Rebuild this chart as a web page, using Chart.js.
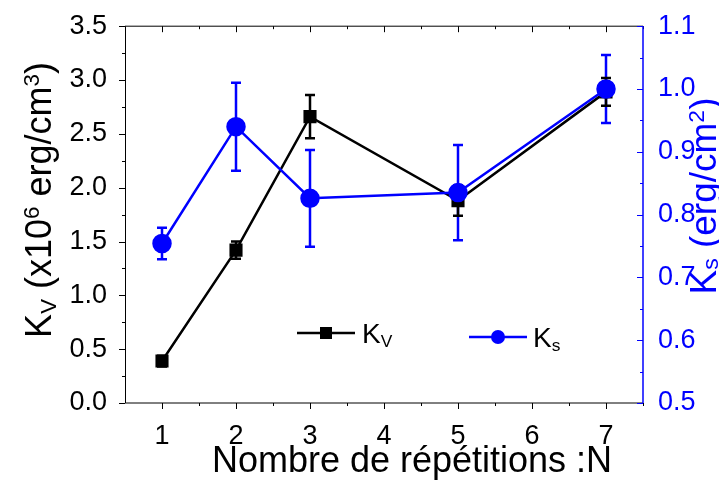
<!DOCTYPE html>
<html>
<head>
<meta charset="utf-8">
<script src="https://cdn.jsdelivr.net/npm/chart.js@4"></script>
<style>
    html, body { margin: 0; padding: 0; background: #fff; }
    #wrap { width: 719px; height: 480px; }
</style>
</head>
<body>
<div id="wrap"><canvas id="chart" width="719" height="480"></canvas></div>
<script>
const repetitions = [1, 2, 3, 5, 7];
const kvValues = [0.39, 1.42, 2.66, 1.88, 2.89];
const kvErrors = [0.05, 0.08, 0.2, 0.14, 0.13];
const ksValues = [0.754, 0.94, 0.826, 0.835, 1.0];
const ksErrors = [0.025, 0.07, 0.077, 0.076, 0.054];

const xTicks = [1, 2, 3, 4, 5, 6, 7];
const kvTicks = [0, 0.5, 1, 1.5, 2, 2.5, 3, 3.5];
const ksTicks = [0.5, 0.6, 0.7, 0.8, 0.9, 1.0, 1.1];

const BLUE = "#0000ff";
const FONT = "'Liberation Sans', Arial, sans-serif";

function toPoints(values) {
    return repetitions.map((x, i) => ({ x: x, y: values[i] }));
}

// text with sub/superscripts, parts: [text, shift] shift -1 sub, 1 sup
function drawRich(ctx, parts, x, y, size, color, rotate, align, subDrop) {
    ctx.save();
    ctx.translate(x, y);
    if (rotate) ctx.rotate(rotate);
    ctx.fillStyle = color;
    ctx.textBaseline = "alphabetic";
    ctx.textAlign = "left";
    let total = 0;
    parts.forEach(([t, s]) => {
        ctx.font = `${s ? size * 0.62 : size}px ${FONT}`;
        total += ctx.measureText(t).width;
    });
    let cx = align === "left" ? 0 : -total / 2;
    const drop = subDrop === undefined ? 0.15 : subDrop;
    parts.forEach(([t, s]) => {
        ctx.font = `${s ? size * 0.62 : size}px ${FONT}`;
        const dy = s === 1 ? -size * 0.33 : s === -1 ? size * drop : 0;
        ctx.fillText(t, cx, dy);
        cx += ctx.measureText(t).width;
    });
    ctx.restore();
}

const errorBars = {
    id: "errorBars",
    beforeDatasetsDraw(chart) {
        const ctx = chart.ctx;
        const xs = chart.scales.x;
        const draw = (scale, values, errors, color) => {
            ctx.save();
            ctx.strokeStyle = color;
            ctx.lineWidth = 2.5;
            values.forEach((v, i) => {
                const px = xs.getPixelForValue(repetitions[i]);
                const top = scale.getPixelForValue(v + errors[i]);
                const bot = scale.getPixelForValue(v - errors[i]);
                ctx.beginPath();
                ctx.moveTo(px, top); ctx.lineTo(px, bot);
                ctx.moveTo(px - 5, top); ctx.lineTo(px + 5, top);
                ctx.moveTo(px - 5, bot); ctx.lineTo(px + 5, bot);
                ctx.stroke();
            });
            ctx.restore();
        };
        draw(chart.scales.y1, ksValues, ksErrors, BLUE);
        draw(chart.scales.y, kvValues, kvErrors, "#000");
    }
};

const axisDecor = {
    id: "axisDecor",
    afterDraw(chart) {
        const ctx = chart.ctx;
        const { left, right, top, bottom } = chart.chartArea;
        const { x, y, y1 } = chart.scales;
        ctx.save();
        ctx.lineWidth = 1;

        // frame
        ctx.strokeStyle = "#000";
        ctx.beginPath();
        ctx.moveTo(left, top); ctx.lineTo(right, top);
        ctx.moveTo(left, bottom); ctx.lineTo(right, bottom);
        ctx.moveTo(left + 0.5, top); ctx.lineTo(left + 0.5, bottom);
        ctx.stroke();

        // x ticks: outward at bottom, inward at top
        ctx.beginPath();
        xTicks.forEach((v) => {
            const px = Math.round(x.getPixelForValue(v)) + 0.5;
            ctx.moveTo(px, bottom); ctx.lineTo(px, bottom + 6);
            ctx.moveTo(px, top); ctx.lineTo(px, top + 6);
            const pm = Math.round(x.getPixelForValue(v + 0.5)) + 0.5;
            ctx.moveTo(pm, bottom); ctx.lineTo(pm, bottom + 3);
            ctx.moveTo(pm, top); ctx.lineTo(pm, top + 3);
        });
        ctx.stroke();

        // left ticks outward
        ctx.beginPath();
        kvTicks.forEach((v, i) => {
            const py = Math.round(y.getPixelForValue(v)) + 0.5;
            ctx.moveTo(left, py); ctx.lineTo(left - 6, py);
            if (i < kvTicks.length - 1) {
                const pm = Math.round(y.getPixelForValue(v + 0.25)) + 0.5;
                ctx.moveTo(left, pm); ctx.lineTo(left - 3, pm);
            }
        });
        ctx.stroke();

        // right axis in blue, ticks inward
        ctx.strokeStyle = BLUE;
        ctx.lineWidth = 1.5;
        ctx.beginPath();
        ctx.moveTo(right, top); ctx.lineTo(right, bottom);
        ctx.stroke();
        ctx.lineWidth = 1;
        ctx.beginPath();
        ksTicks.forEach((v, i) => {
            const py = Math.round(y1.getPixelForValue(v)) + 0.5;
            ctx.moveTo(right, py); ctx.lineTo(right - 6, py);
            if (i < ksTicks.length - 1) {
                const pm = Math.round(y1.getPixelForValue(v + 0.05)) + 0.5;
                ctx.moveTo(right, pm); ctx.lineTo(right - 3, pm);
            }
        });
        ctx.stroke();
        ctx.restore();

        // axis titles
        drawRich(ctx, [["Nombre de répétitions :N", 0]], 412, 472, 36, "#000", 0);
        drawRich(ctx, [["K", 0], ["V", -1], [" (x10", 0], ["6", 1], [" erg/cm", 0], ["3", 1], [")", 0]],
            51, 200, 36, "#000", -Math.PI / 2);
        drawRich(ctx, [["K", 0], ["s", -1], [" (erg/cm", 0], ["2", 1], [")", 0]],
            716, 196, 37, BLUE, -Math.PI / 2, "center", 0.06);

        // legend
        ctx.save();
        ctx.lineWidth = 2.5;
        ctx.strokeStyle = "#000";
        ctx.beginPath();
        ctx.moveTo(297, 333); ctx.lineTo(355, 333);
        ctx.stroke();
        ctx.fillStyle = "#000";
        ctx.fillRect(320, 327, 12, 12);
        ctx.strokeStyle = BLUE;
        ctx.beginPath();
        ctx.moveTo(469, 337); ctx.lineTo(527, 337);
        ctx.stroke();
        ctx.fillStyle = BLUE;
        ctx.beginPath();
        ctx.arc(498, 337, 7, 0, Math.PI * 2);
        ctx.fill();
        ctx.restore();
        drawRich(ctx, [["K", 0], ["V", -1]], 362, 343, 28, "#000", 0, "left");
        drawRich(ctx, [["K", 0], ["s", -1]], 533, 347, 28, "#000", 0, "left");
    }
};

new Chart(document.getElementById("chart"), {
    type: "line",
    data: {
        datasets: [
            {
                label: "Ks",
                data: toPoints(ksValues),
                yAxisID: "y1",
                borderColor: BLUE,
                backgroundColor: BLUE,
                borderWidth: 2.5,
                pointStyle: "circle",
                pointRadius: 8.5,
                pointHoverRadius: 8.5,
                tension: 0,
                order: 0
            },
            {
                label: "Kv",
                data: toPoints(kvValues),
                yAxisID: "y",
                borderColor: "#000",
                backgroundColor: "#000",
                borderWidth: 2.5,
                pointStyle: "rect",
                pointRadius: 7.5,
                pointHoverRadius: 7.5,
                tension: 0,
                order: 1
            }
        ]
    },
    options: {
        responsive: false,
        animation: false,
        events: [],
        layout: { padding: { top: 16 } },
        plugins: {
            legend: { display: false },
            tooltip: { enabled: false }
        },
        scales: {
            x: {
                type: "linear",
                min: 0.5,
                max: 7.5,
                grid: { display: false },
                border: { display: false },
                afterBuildTicks: (scale) => { scale.ticks = xTicks.map((v) => ({ value: v })); },
                afterFit: (scale) => { scale.height = 77; },
                ticks: {
                    color: "#000",
                    padding: 9,
                    font: { family: FONT, size: 27 }
                }
            },
            y: {
                position: "left",
                min: 0,
                max: 3.5,
                grid: { display: false },
                border: { display: false },
                afterBuildTicks: (scale) => { scale.ticks = kvTicks.map((v) => ({ value: v })); },
                afterFit: (scale) => { scale.width = 125; },
                ticks: {
                    color: "#000",
                    padding: 10,
                    font: { family: FONT, size: 27 },
                    callback: (v) => v.toFixed(1)
                }
            },
            y1: {
                position: "right",
                min: 0.5,
                max: 1.1,
                grid: { display: false },
                border: { display: false },
                afterBuildTicks: (scale) => { scale.ticks = ksTicks.map((v) => ({ value: v })); },
                afterFit: (scale) => { scale.width = 76; },
                ticks: {
                    color: BLUE,
                    padding: 7,
                    font: { family: FONT, size: 27 },
                    callback: (v) => v.toFixed(1)
                }
            }
        }
    },
    plugins: [errorBars, axisDecor]
});
</script>
</body>
</html>
